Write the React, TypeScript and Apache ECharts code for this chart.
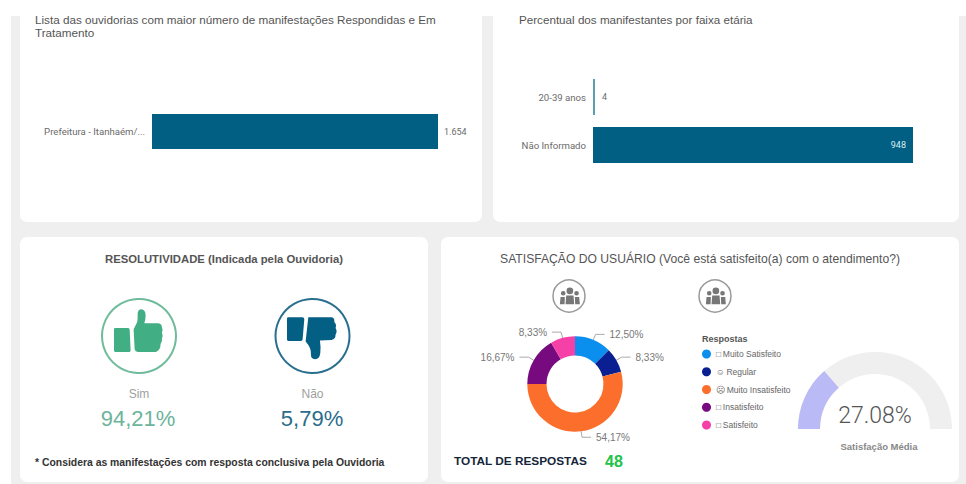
import React, { useEffect, useRef } from "react";
import * as echarts from "echarts";

const ouvidoriaCategories = ["Prefeitura - Itanhaém/..."];
const ouvidoriaValues = [1654];
const idadeCategories = ["20-39 anos", "Não Informado"];
const idadeValues = [4, 948];
const satisfacaoNames = ["Muito Satisfeito", "Regular", "Muito Insatisfeito", "Insatisfeito", "Satisfeito"];
const satisfacaoGlyphs = ["□", "☺", "☹", "□", "□"];
const satisfacaoValues = [12.5, 8.33, 54.17, 16.67, 8.33];
const satisfacaoColors = ["#0a8fef", "#0a1f91", "#fb6e2c", "#760a7e", "#f540a8"];
const resolutividadeLabels = ["Sim", "Não"];
const resolutividadeValues = ["94,21%", "5,79%"];
const satisfacaoMedia = 27.08;
const totalRespostas = 48;

const br = (v: number) => v.toLocaleString("pt-BR");
const pct = (v: number) => v.toFixed(2).replace(".", ",") + "%";

const SANS = "'Liberation Sans', Arial, sans-serif";
const THIN = "Roboto, sans-serif";

echarts.graphic.registerShape("thumbUp", echarts.graphic.extendPath(
  "M72 118 Q72 114 76 114 L113 114 Q118 114 119 118 L122 182 Q122 186 118 186 L76 186 Q72 186 72 182 Z " +
  "M131 118 L140 100 Q144 92 143 72 Q144 58 154 58 Q167 60 167 76 Q167 90 163 100 L205 100 Q216 102 216 112 Q220 120 216 128 Q220 138 216 146 Q218 156 212 162 Q212 180 198 186 L144 186 Q136 186 134 178 Z", {}));
echarts.graphic.registerShape("thumbDown", echarts.graphic.extendPath(
  "M70 82 L112 82 Q118 82 118 88 L113 148 Q112 153 108 153 L70 153 Q66 153 66 149 L66 86 Q66 82 70 82 Z " +
  "M130 82 L200 82 Q210 84 208 96 Q216 104 212 114 Q218 124 212 134 Q212 148 200 150 L165 152 Q168 170 166 190 Q164 208 150 208 Q138 208 138 194 Q140 175 122 155 Z", {}));
echarts.graphic.registerShape("people", echarts.graphic.extendPath(
  "M380 168 A10 10 0 1 0 400 168 A10 10 0 1 0 380 168 Z " +
  "M363 175 A7 7 0 1 0 377 175 A7 7 0 1 0 363 175 Z " +
  "M403 175 A7 7 0 1 0 417 175 A7 7 0 1 0 403 175 Z " +
  "M379 182 L401 182 L403 208 L377 208 Z M362 186 L375 186 L374 208 L360 208 Z M405 186 L418 186 L420 208 L406 208 Z", {}));

const txt = (text: string, x: number, y: number, size: number, fill: string, extra: any = {}) => ({
  type: "text", x, y, z: 10,
  style: { text, fontSize: size, fill, fontFamily: SANS, textAlign: "left", textVerticalAlign: "middle", ...extra },
});
const panel = (x: number, y: number, width: number, height: number) => ({
  type: "rect", z: -1, shape: { x, y, width, height, r: 7 }, style: { fill: "#ffffff" },
});

export default function App() {
  const ref = useRef<HTMLDivElement>(null);
  useEffect(() => {
    document.body.style.margin = "0";
    const chart = echarts.init(ref.current!, null, { renderer: "svg" });
    const axisLabel = { fontFamily: THIN, fontSize: 9.6, color: "#6b6b6b", margin: 7 };
    chart.setOption({
      animation: false,
      backgroundColor: "#efefef",
      grid: [
        { left: 152, top: 80, width: 286, height: 103, containLabel: false },
        { left: 593, top: 73, width: 320, height: 96, containLabel: false },
      ],
      xAxis: [
        { type: "value", gridIndex: 0, min: 0, max: 1654, show: false },
        { type: "value", gridIndex: 1, min: 0, max: 948, show: false },
      ],
      yAxis: [
        { type: "category", gridIndex: 0, z: 5, data: ouvidoriaCategories, axisLine: { show: false }, axisTick: { show: false }, axisLabel },
        { type: "category", gridIndex: 1, z: 5, data: idadeCategories, inverse: true, axisLine: { show: false }, axisTick: { show: false }, axisLabel },
      ],
      legend: {
        left: 697, top: 344.5, orient: "vertical", icon: "circle", itemWidth: 9, itemHeight: 9, itemGap: 8.75,
        data: satisfacaoNames, selectedMode: false,
        formatter: (n: string) => satisfacaoGlyphs[satisfacaoNames.indexOf(n)] + "\u2009" + n,
        textStyle: { fontFamily: SANS, fontSize: 8.5, color: "#666" },
      },
      series: [
        {
          type: "bar", xAxisIndex: 0, yAxisIndex: 0, barWidth: 35,
          data: ouvidoriaValues,
          itemStyle: { color: "#005f82" },
          label: { show: true, position: "right", distance: 6, fontFamily: THIN, fontSize: 9, color: "#6b6b6b", formatter: (p: any) => br(p.value) },
        },
        {
          type: "bar", xAxisIndex: 1, yAxisIndex: 1, barWidth: 36, barMinHeight: 2,
          data: [
            { value: idadeValues[0], itemStyle: { color: "#5c9fb0" }, label: { position: "right", distance: 7, color: "#6b6b6b" } },
            { value: idadeValues[1], itemStyle: { color: "#005f82" }, label: { position: "insideRight", distance: 7, color: "#d8eef3" } },
          ],
          label: { show: true, fontFamily: THIN, fontSize: 9 },
        },
        {
          type: "pie", center: [575, 384], radius: [28.5, 47.7], startAngle: 90, clockwise: true,
          data: satisfacaoNames.map((name, i) => ({ name, value: satisfacaoValues[i], itemStyle: { color: satisfacaoColors[i] } })),
          label: { show: true, fontFamily: SANS, fontSize: 10, color: "#777", formatter: (p: any) => pct(p.value) },
          labelLine: { show: true, length: 6, length2: 9, lineStyle: { color: "#aaa", width: 1 } },
        },
        {
          type: "gauge", center: [875, 429], radius: 77, startAngle: 180, endAngle: 0, min: 0, max: 100,
          pointer: { show: false }, axisTick: { show: false }, splitLine: { show: false }, axisLabel: { show: false },
          axisLine: { lineStyle: { width: 22, color: [[1, "#f0efef"]] } },
          progress: { show: true, width: 22, itemStyle: { color: "#b9baf6" } },
          title: { show: true, offsetCenter: [4, 17], fontFamily: SANS, fontSize: 9.5, fontWeight: "bold", color: "#888" },
          detail: { show: true, offsetCenter: [0, -14], fontFamily: THIN, fontSize: 23, fontWeight: 300, color: "#555", formatter: (v: number) => v.toFixed(2) + "%" },
          data: [{ value: satisfacaoMedia, name: "Satisfação Média" }],
        },
      ],
      graphic: [
        panel(20, 10, 462, 212), panel(493, 10, 466, 212), panel(20, 237, 408, 245), panel(441, 237, 518, 245),
        txt("Lista das ouvidorias com maior número de manifestações Respondidas e Em", 35, 19, 11.7, "#555"),
        txt("Tratamento", 35, 32.5, 11.7, "#555"),
        txt("Percentual dos manifestantes por faixa etária", 519, 19, 11.65, "#555"),
        { type: "rect", z: 20, shape: { x: 0, y: 0, width: 966, height: 16 }, style: { fill: "#ffffff" } },
        { type: "rect", z: 20, shape: { x: 0, y: 0, width: 11, height: 484 }, style: { fill: "#ffffff" } },
        txt("RESOLUTIVIDADE (Indicada pela Ouvidoria)", 224, 259, 11.3, "#555", { fontWeight: "bold", textAlign: "center" }),
        { type: "circle", z: 5, shape: { cx: 139, cy: 336, r: 37 }, style: { fill: "none", stroke: "#70bb9c", lineWidth: 2 } },
        { type: "thumbUp", z: 6, x: 90, y: 290, scaleX: 1 / 3, scaleY: 1 / 3, style: { fill: "#41ae84" } },
        { type: "circle", z: 5, shape: { cx: 312.5, cy: 336, r: 37 }, style: { fill: "none", stroke: "#2a6f8f", lineWidth: 2 } },
        { type: "thumbDown", z: 6, x: 265, y: 290, scaleX: 1 / 3, scaleY: 1 / 3, style: { fill: "#045f85" } },
        txt(resolutividadeLabels[0], 139, 394, 12, "#a0a0a0", { textAlign: "center" }),
        txt(resolutividadeValues[0], 138, 418, 22, "#6cb49a", { textAlign: "center" }),
        txt(resolutividadeLabels[1], 312.5, 394, 12, "#a0a0a0", { textAlign: "center" }),
        txt(resolutividadeValues[1], 312, 418, 22, "#2b6c8c", { textAlign: "center" }),
        txt("* Considera as manifestações com resposta conclusiva pela Ouvidoria", 35, 462, 10.4, "#333", { fontWeight: "bold" }),
        txt("SATISFAÇÃO DO USUÁRIO (Você está satisfeito(a) com o atendimento?)", 700, 259, 12.15, "#555", { textAlign: "center" }),
        { type: "circle", z: 5, shape: { cx: 569, cy: 296, r: 16 }, style: { fill: "none", stroke: "#999", lineWidth: 1.5 } },
        { type: "people", z: 6, x: 440, y: 235, scaleX: 1 / 3, scaleY: 1 / 3, style: { fill: "#777" } },
        { type: "circle", z: 5, shape: { cx: 715, cy: 296, r: 16 }, style: { fill: "none", stroke: "#999", lineWidth: 1.5 } },
        { type: "people", z: 6, x: 586, y: 235, scaleX: 1 / 3, scaleY: 1 / 3, style: { fill: "#777" } },
        txt("Respostas", 702, 339, 9, "#555", { fontWeight: "bold" }),
        txt("TOTAL DE RESPOSTAS", 454, 461, 11.8, "#15263a", { fontWeight: "bold" }),
        txt(String(totalRespostas), 605, 461, 16, "#22c34a", { fontWeight: "bold" }),
      ],
    });
    return () => chart.dispose();
  }, []);
  return <div ref={ref} style={{ position: "absolute", left: 0, top: 0, width: 966, height: 484 }} />;
}
